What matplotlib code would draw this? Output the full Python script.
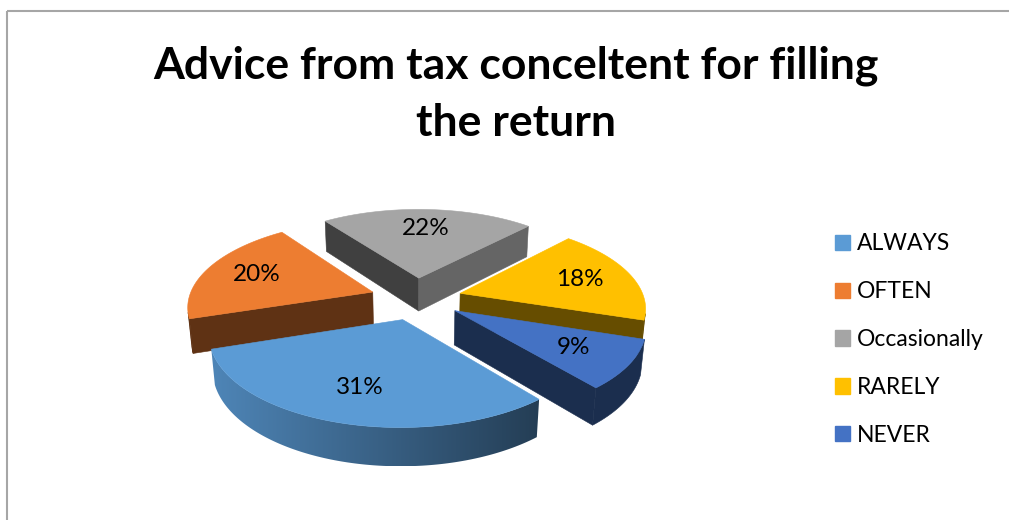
import numpy as np
import matplotlib
matplotlib.use("Agg")
import matplotlib.pyplot as plt
from matplotlib.colors import to_rgb
from matplotlib.patches import Polygon, Rectangle, Patch

title_lines = ["Advice from tax conceltent for filling", "the return"]
categories = ["ALWAYS", "OFTEN", "Occasionally", "RARELY", "NEVER"]
percents = [31, 20, 22, 18, 9]
colors = ["#5B9BD5", "#ED7D31", "#A5A5A5", "#FFC000", "#4472C4"]

# darkening of the rounded wall (left end, right end) and of the two cut faces
outer_shade = [(0.86, 0.40), (0.40, 0.40), (0.40, 0.40), (0.40, 0.40), (0.40, 0.40)]
cut_shade = [(0.40, 0.40), (0.40, 0.40), (0.39, 0.61), (0.40, 0.40), (0.40, 0.40)]

# view of the tilted pie, in pixels
CX, CY = 416, 298.5
SCALE = 184
TILT = np.radians(27.4)
PERSP = 0.169
EXPLODE = 0.25
DEPTH = 0.21
START = -50.4
LABEL_R = 0.7

cam = np.array([0.0, -np.cos(TILT) / PERSP, np.sin(TILT) / PERSP])


def project(x, y, z):
    u = y * np.sin(TILT) + z * np.cos(TILT)
    w = y * np.cos(TILT) - z * np.sin(TILT)
    s = 1 / (1 + w * PERSP)
    return np.column_stack([CX + SCALE * x * s, CY - SCALE * u * s])


def dark(color, f):
    return tuple(np.array(to_rgb(color)) * f)


def faces_camera(pts, normal):
    centre = np.mean(pts, axis=0)
    return np.dot(normal, cam - centre) > 0


fig = plt.figure(figsize=(10.09, 5.20), dpi=100)
ax = fig.add_axes([0, 0, 1, 1])
ax.axis("off")

# chart area frame
ax.add_patch(Rectangle((6.5, 11), 1100, 600, fill=False, edgecolor="#A6A6A6", lw=1.5))

slices = []
a = START
for i, pct in enumerate(percents):
    span = 360 * pct / 100
    t1, t2 = a, a - span
    mid = np.radians((t1 + t2) / 2)
    slices.append((i, np.radians(t1), np.radians(t2), mid,
                   EXPLODE * np.cos(mid), EXPLODE * np.sin(mid)))
    a = t2

z = 2
# back slices first
for i, t1, t2, mid, ox, oy in sorted(slices, key=lambda s: -s[5]):
    col = colors[i]
    th = np.linspace(t1, t2, 120)
    rx, ry = ox + np.cos(th), oy + np.sin(th)

    # flat cut faces
    for t, n_ang, f in [(t1, t1 + np.pi / 2, cut_shade[i][0]),
                        (t2, t2 - np.pi / 2, cut_shade[i][1])]:
        ex, ey = ox + np.cos(t), oy + np.sin(t)
        pts = np.array([[ox, oy, 0], [ex, ey, 0], [ex, ey, -DEPTH], [ox, oy, -DEPTH]])
        if faces_camera(pts, np.array([np.cos(n_ang), np.sin(n_ang), 0])):
            xy = project(pts[:, 0], pts[:, 1], pts[:, 2])
            ax.add_patch(Polygon(xy, facecolor=dark(col, f), edgecolor=dark(col, f),
                                 lw=0.4, zorder=z))
            z += 1

    # rounded outer wall, only the part turned towards the viewer
    seen = [np.dot([np.cos(t), np.sin(t), 0], cam - [x, y, 0]) > 0
            for t, x, y in zip(th, rx, ry)]
    seen = np.array(seen)
    if seen.sum() > 1:
        vx, vy = rx[seen], ry[seen]
        top = project(vx, vy, np.zeros(len(vx)))
        bot = project(vx, vy, np.full(len(vx), -DEPTH))
        wall = np.vstack([top, bot[::-1]])
        left, right = outer_shade[i]
        if left == right:
            ax.add_patch(Polygon(wall, facecolor=dark(col, left), edgecolor=dark(col, left),
                                 lw=0.4, zorder=z))
        else:
            x0, x1 = wall[:, 0].min(), wall[:, 0].max()
            y0, y1 = wall[:, 1].min(), wall[:, 1].max()
            ramp = np.linspace(left, right, 256)
            grad = np.array(to_rgb(col))[None, None, :] * ramp[None, :, None]
            clip = Polygon(wall, facecolor="none", edgecolor="none", zorder=z)
            ax.add_patch(clip)
            im = ax.imshow(grad, extent=(x0, x1, y1, y0), aspect="auto",
                           interpolation="bilinear", zorder=z)
            im.set_clip_path(clip)
        z += 1

    # top face
    top = project(np.r_[ox, rx], np.r_[oy, ry], np.zeros(len(rx) + 1))
    ax.add_patch(Polygon(top, facecolor=col, edgecolor=col, lw=0.4, zorder=z))
    z += 1

    lx, ly = project(np.array([ox + LABEL_R * np.cos(mid)]),
                     np.array([oy + LABEL_R * np.sin(mid)]), np.zeros(1))[0]
    ax.text(lx, ly, f"{percents[i]}%", ha="center", va="center",
            fontsize=17.5, family="Lato", color="black", zorder=50)

for line, base in zip(title_lines, [79, 136]):
    ax.text(516, base, line, ha="center", va="baseline",
            fontsize=32, family="Lato", fontweight="bold")

handles = [Patch(facecolor=c, edgecolor=c) for c in colors]
ax.legend(handles, categories, loc="upper left", bbox_to_anchor=(0.8276, 0.551),
          frameon=False, prop={"family": "Lato", "size": 16.5},
          handlelength=0.65, handleheight=0.65, handletextpad=0.3,
          labelspacing=1.17, borderpad=0, borderaxespad=0)

ax.set_xlim(0, 1009)
ax.set_ylim(520, 0)
fig.savefig("out.png", dpi=100)
